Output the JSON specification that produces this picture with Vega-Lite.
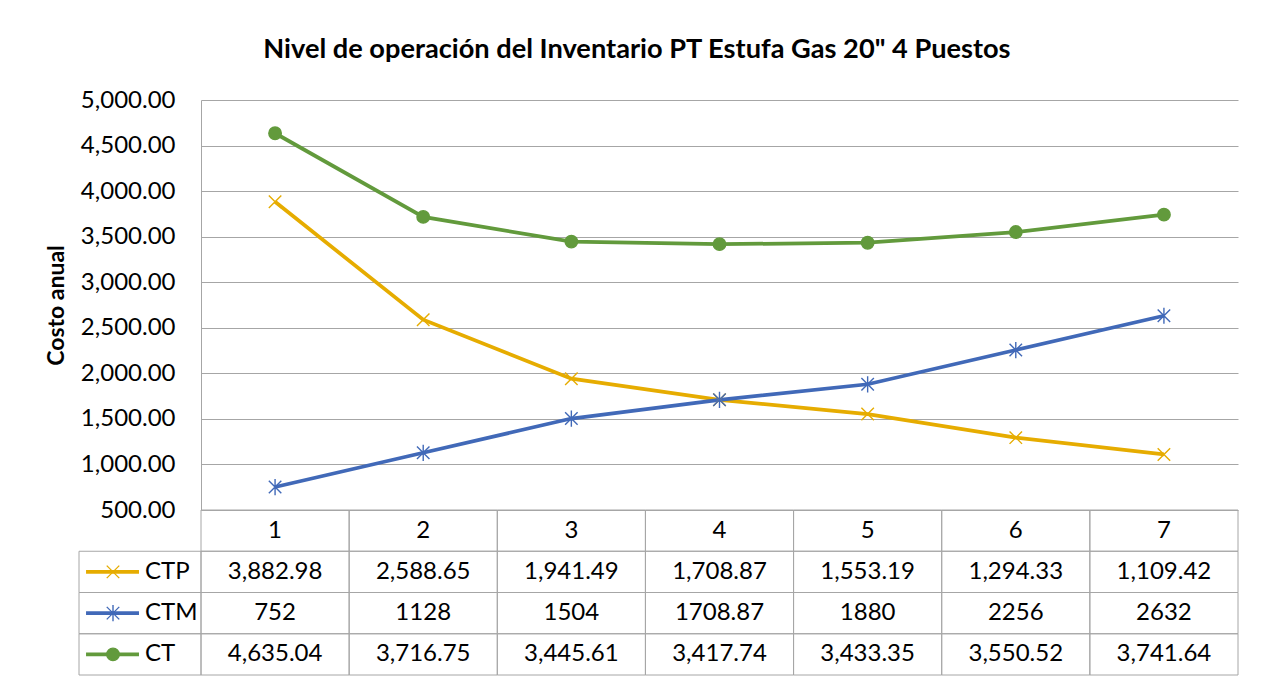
{
  "$schema": "https://vega.github.io/schema/vega-lite/v6.json",
  "padding": {"left": 45, "top": 35, "right": 20, "bottom": 5},
  "background": "white",
  "title": {
    "text": "Nivel de operación del Inventario PT Estufa Gas 20\" 4 Puestos",
    "font": "Lato", "fontSize": 27.2, "fontWeight": "bold", "color": "#000000",
    "anchor": "middle", "offset": 24, "dx": -5
  },
  "datasets": {
    "costos": [
      {"serie": "CTP", "n": 1, "valor": 3882.98},
      {"serie": "CTP", "n": 2, "valor": 2588.65},
      {"serie": "CTP", "n": 3, "valor": 1941.49},
      {"serie": "CTP", "n": 4, "valor": 1708.87},
      {"serie": "CTP", "n": 5, "valor": 1553.19},
      {"serie": "CTP", "n": 6, "valor": 1294.33},
      {"serie": "CTP", "n": 7, "valor": 1109.42},
      {"serie": "CTM", "n": 1, "valor": 752},
      {"serie": "CTM", "n": 2, "valor": 1128},
      {"serie": "CTM", "n": 3, "valor": 1504},
      {"serie": "CTM", "n": 4, "valor": 1708.87},
      {"serie": "CTM", "n": 5, "valor": 1880},
      {"serie": "CTM", "n": 6, "valor": 2256},
      {"serie": "CTM", "n": 7, "valor": 2632},
      {"serie": "CT", "n": 1, "valor": 4635.04},
      {"serie": "CT", "n": 2, "valor": 3716.75},
      {"serie": "CT", "n": 3, "valor": 3445.61},
      {"serie": "CT", "n": 4, "valor": 3417.74},
      {"serie": "CT", "n": 5, "valor": 3433.35},
      {"serie": "CT", "n": 6, "valor": 3550.52},
      {"serie": "CT", "n": 7, "valor": 3741.64}
    ]
  },
  "spacing": 0,
  "bounds": "flush",
  "vconcat": [
    {
      "width": 1037,
      "height": 410,
      "data": {"name": "costos"},
      "encoding": {
        "x": {"field": "n", "type": "ordinal", "scale": {"type": "point", "padding": 0.5}, "axis": null},
        "y": {
          "field": "valor", "type": "quantitative",
          "scale": {"domain": [500, 5000], "nice": false, "zero": false},
          "axis": {
            "values": [500, 1000, 1500, 2000, 2500, 3000, 3500, 4000, 4500, 5000],
            "format": ",.2f", "title": "Costo anual",
            "grid": true, "gridColor": "#a6a6a6", "gridWidth": 1,
            "domain": true, "domainColor": "#a6a6a6", "domainWidth": 1,
            "ticks": false, "labelPadding": 26, "labelFontSize": 24, "labelColor": "#000000", "labelFont": "Lato",
            "titleFont": "Lato", "titleFontSize": 23, "titleFontWeight": "bold", "titleColor": "#000000", "titlePadding": 12
          }
        },
        "color": {
          "field": "serie", "type": "nominal",
          "scale": {"domain": ["CTP", "CTM", "CT"], "range": ["#e6ac00", "#4169b8", "#629a3c"]},
          "legend": null
        }
      },
      "layer": [
        {"mark": {"type": "line", "strokeWidth": 3.75}},
        {
          "mark": {"type": "point", "size": 156, "strokeWidth": 1.4, "opacity": 1},
          "encoding": {
            "shape": {
              "field": "serie", "type": "nominal",
              "scale": {"domain": ["CTP", "CTM", "CT"], "range": ["M-1,-1L1,1M-1,1L1,-1", "M-1,-1L1,1M-1,1L1,-1M0,-1.3L0,1.3", "circle"]},
              "legend": null
            },
            "fill": {"condition": {"test": "datum.serie === 'CT'", "value": "#629a3c"}, "value": "transparent"}
          }
        }
      ]
    },
    {
      "width": 1037,
      "height": 165,
      "data": {"name": "costos"},
      "transform": [
        {"calculate": "datum.serie === 'CTM' ? '' + datum.valor : format(datum.valor, ',.2f')", "as": "etiqueta"}
      ],
      "layer": [
        {
          "layer": [
            {
              "mark": {"type": "rect", "filled": false, "color": "#a6a6a6", "strokeWidth": 1},
              "encoding": {
                "x": {"field": "n", "type": "ordinal", "scale": {"type": "band", "paddingInner": 0, "paddingOuter": 0}, "axis": null},
                "y": {"field": "serie", "type": "nominal", "scale": {"type": "band", "domain": ["h", "CTP", "CTM", "CT"], "paddingInner": 0, "paddingOuter": 0}, "axis": null}
              }
            },
            {
              "transform": [{"filter": "datum.serie === 'CTP'"}],
              "mark": {"type": "rect", "filled": false, "color": "#a6a6a6", "strokeWidth": 1},
              "encoding": {
                "x": {"field": "n", "type": "ordinal", "axis": null},
                "y": {"datum": "h", "type": "nominal", "axis": null}
              }
            },
            {
              "mark": {"type": "text", "fontSize": 24, "font": "Lato", "color": "#000000", "baseline": "middle"},
              "encoding": {
                "x": {"field": "n", "type": "ordinal", "bandPosition": 0.5, "axis": null},
                "y": {"field": "serie", "type": "nominal", "bandPosition": 0.5, "axis": null},
                "text": {"field": "etiqueta"}
              }
            },
            {
              "transform": [{"filter": "datum.serie === 'CTP'"}],
              "mark": {"type": "text", "fontSize": 24, "font": "Lato", "color": "#000000", "baseline": "middle"},
              "encoding": {
                "x": {"field": "n", "type": "ordinal", "bandPosition": 0.5, "axis": null},
                "y": {"datum": "h", "type": "nominal", "bandPosition": 0.5, "axis": null},
                "text": {"field": "n"}
              }
            }
          ]
        },
        {
          "transform": [{"filter": "datum.n === 1"}],
          "layer": [
            {
              "mark": {"type": "rect", "filled": false, "color": "#a6a6a6", "strokeWidth": 1},
              "encoding": {
                "x": {"datum": -0.8235, "type": "quantitative", "scale": {"domain": [0, 7], "nice": false, "zero": false}, "axis": null},
                "x2": {"datum": 0},
                "y": {"field": "serie", "type": "nominal", "axis": null}
              }
            },
            {
              "mark": {"type": "rule", "strokeWidth": 3.75},
              "encoding": {
                "x": {"datum": -0.776, "type": "quantitative", "scale": {"domain": [0, 7], "nice": false, "zero": false}, "axis": null},
                "x2": {"datum": -0.4186},
                "y": {"field": "serie", "type": "nominal", "bandPosition": 0.5, "axis": null},
                "color": {"field": "serie", "type": "nominal", "scale": {"domain": ["CTP", "CTM", "CT"], "range": ["#e6ac00", "#4169b8", "#629a3c"]}, "legend": null}
              }
            },
            {
              "mark": {"type": "point", "size": 156, "strokeWidth": 1.4, "opacity": 1},
              "encoding": {
                "x": {"datum": -0.594, "type": "quantitative", "scale": {"domain": [0, 7], "nice": false, "zero": false}, "axis": null},
                "y": {"field": "serie", "type": "nominal", "bandPosition": 0.5, "axis": null},
                "color": {"field": "serie", "type": "nominal", "scale": {"domain": ["CTP", "CTM", "CT"], "range": ["#e6ac00", "#4169b8", "#629a3c"]}, "legend": null},
                "shape": {
                  "field": "serie", "type": "nominal",
                  "scale": {"domain": ["CTP", "CTM", "CT"], "range": ["M-1,-1L1,1M-1,1L1,-1", "M-1,-1L1,1M-1,1L1,-1M0,-1.3L0,1.3", "circle"]},
                  "legend": null
                },
                "fill": {"condition": {"test": "datum.serie === 'CT'", "value": "#629a3c"}, "value": "transparent"}
              }
            },
            {
              "mark": {"type": "text", "align": "left", "baseline": "middle", "fontSize": 24, "font": "Lato", "color": "#000000"},
              "encoding": {
                "x": {"datum": -0.378, "type": "quantitative", "scale": {"domain": [0, 7], "nice": false, "zero": false}, "axis": null},
                "y": {"field": "serie", "type": "nominal", "bandPosition": 0.5, "axis": null},
                "text": {"field": "serie"}
              }
            }
          ]
        }
      ],
      "resolve": {"scale": {"x": "independent"}}
    }
  ],
  "config": {
    "font": "Lato",
    "view": {"stroke": null}
  }
}
